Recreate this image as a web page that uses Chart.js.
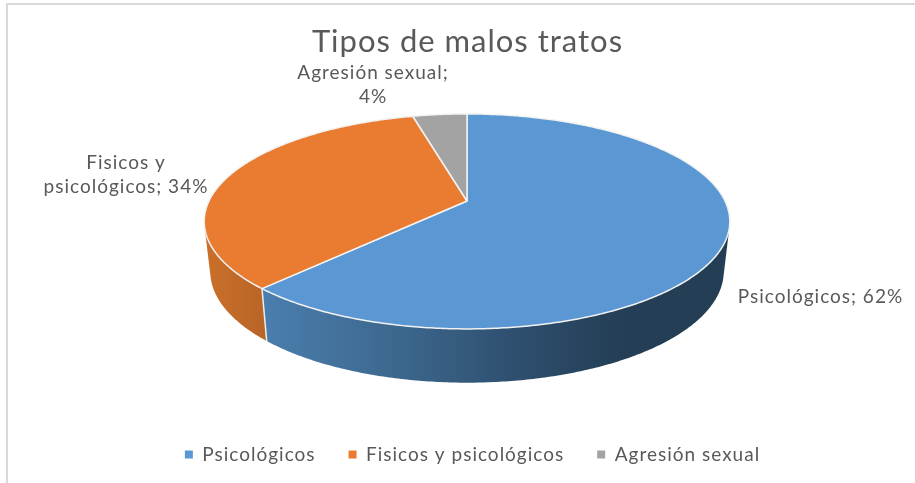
<!DOCTYPE html>
<html><head><meta charset="utf-8">
<style>html,body{margin:0;padding:0;background:#fff}canvas{display:block}</style>
<script src="https://cdn.jsdelivr.net/npm/chart.js@4"></script></head>
<body><canvas id="c" width="915" height="483" style="width:915px;height:483px"></canvas>
<script>
const categories = ['Psicológicos', 'Fisicos y psicológicos', 'Agresión sexual'];
const shares = [62, 34, 4];
const sliceColors = ['#5B98D3', '#E97C31', '#A3A3A3'];
const chartTitle = 'Tipos de malos tratos';

const FONT = 'Lato, "Noto Sans", sans-serif';
const TEXT = '#595959';
const SPACING = '1px';
const view = {cx: 467, cy: 201, A: 103.6, B: 258, k: 0.19};
const labelPlaces = [
  {x: 820.5, y: 297, lines: 1},
  {x: 126, y: 163, lines: 2, breakAt: 'Fisicos y '},
  {x: 373, y: 73, lines: 2, breakAt: 'Agresión sexual; '}
];

function project(a) {
  const x = Math.cos(a), y = Math.sin(a), w = 1 - view.k * y;
  return [view.cx + view.B * x / w, view.cy + view.A * y / w];
}
function lower(p) {
  return [view.cx + 0.977 * (p[0] - view.cx), 271 + (p[1] - 221) * 1.035];
}
function samples(a0, a1) {
  const n = Math.max(2, Math.ceil((a1 - a0) / 0.01)), out = [];
  for (let i = 0; i <= n; i++) out.push(a0 + (a1 - a0) * i / n);
  return out;
}
function sideFill(ctx, i) {
  const g = ctx.createLinearGradient(200, 0, 735, 0);
  if (i === 0) {
    g.addColorStop(0.12, '#4A7EAE'); g.addColorStop(0.38, '#3C668C');
    g.addColorStop(0.62, '#2C4C6A'); g.addColorStop(0.8, '#233E55'); g.addColorStop(1, '#233E55');
  } else {
    g.addColorStop(0, '#CB7029'); g.addColorStop(0.12, '#B96528');
  }
  return g;
}

const pie3d = {
  id: 'pie3d',
  beforeLayout(chart) { chart.ctx.letterSpacing = SPACING; },
  beforeDraw(chart) {
    const c = chart.ctx;
    c.letterSpacing = SPACING;
    c.save();
    c.fillStyle = '#fff'; c.fillRect(0, 0, chart.width, chart.height);
    c.fillStyle = '#D9D9D9';
    c.fillRect(6, 3, 2, chart.height - 3);
    c.fillRect(6, 3, chart.width - 6, 2);
    c.restore();
  },
  afterLayout(chart) { chart.legend.left += 5; chart.legend.right += 5; },
  beforeDatasetDraw(chart, args) {
    const c = chart.ctx, arcs = args.meta.data;
    c.save();
    // sides, back slices first: one quad per rim step, all wound the same way
    [1, 0].forEach(i => {
      const a = arcs[i];
      const front = samples(a.startAngle, a.endAngle).filter(t => Math.sin(t) > -0.2).map(project);
      if (front.length < 2) return;
      c.beginPath();
      for (let j = 0; j + 1 < front.length; j++) {
        const q = [front[j], front[j + 1], lower(front[j + 1]), lower(front[j])];
        let area = 0;
        q.forEach((p, m) => { const n = q[(m + 1) % 4]; area += p[0] * n[1] - n[0] * p[1]; });
        if (area < 0) q.reverse();
        q.forEach((p, m) => m ? c.lineTo(p[0], p[1]) : c.moveTo(p[0], p[1]));
        c.closePath();
      }
      c.fillStyle = sideFill(c, i);
      c.fill();
    });
    // edge between the two visible sides
    const e = project(arcs[0].endAngle), e2 = lower(e);
    c.strokeStyle = '#EDEDED'; c.lineWidth = 1.5;
    c.beginPath(); c.moveTo(e[0], e[1]); c.lineTo(e2[0], e2[1]); c.stroke();
    // top faces
    arcs.forEach((a, i) => {
      c.beginPath();
      c.moveTo(view.cx, view.cy);
      samples(a.startAngle, a.endAngle).map(project).forEach(p => c.lineTo(p[0], p[1]));
      c.closePath();
      c.fillStyle = sliceColors[i];
      c.fill();
      c.strokeStyle = '#F2F2F2'; c.lineWidth = 1.5; c.lineJoin = 'round';
      c.stroke();
    });
    c.restore();
    return false;
  },
  afterDraw(chart) {
    const c = chart.ctx;
    c.save();
    c.font = '19px ' + FONT; c.fillStyle = TEXT; c.textAlign = 'center'; c.textBaseline = 'middle';
    categories.forEach((name, i) => {
      const text = name + '; ' + shares[i] + '%', pl = labelPlaces[i];
      if (pl.lines === 1) { c.fillText(text, pl.x, pl.y); return; }
      const cut = pl.breakAt.length;
      c.fillText(text.slice(0, cut).trim(), pl.x, pl.y);
      c.fillText(text.slice(cut), pl.x, pl.y + 24);
    });
    c.restore();
  }
};

new Chart(document.getElementById('c'), {
  type: 'pie',
  data: {labels: categories, datasets: [{data: shares, backgroundColor: sliceColors, borderWidth: 0}]},
  plugins: [pie3d],
  options: {
    responsive: false, animation: false,
    layout: {padding: {left: 20, bottom: 9}},
    plugins: {
      tooltip: {enabled: false},
      title: {display: true, text: chartTitle, color: TEXT, font: {family: FONT, size: 31, weight: 'normal'}, padding: {top: 23, bottom: 30}},
      legend: {position: 'bottom', labels: {color: TEXT, font: {family: FONT, size: 19}, usePointStyle: false, boxWidth: 8, boxHeight: 8, padding: 33}}
    }
  }
});
</script></body></html>
